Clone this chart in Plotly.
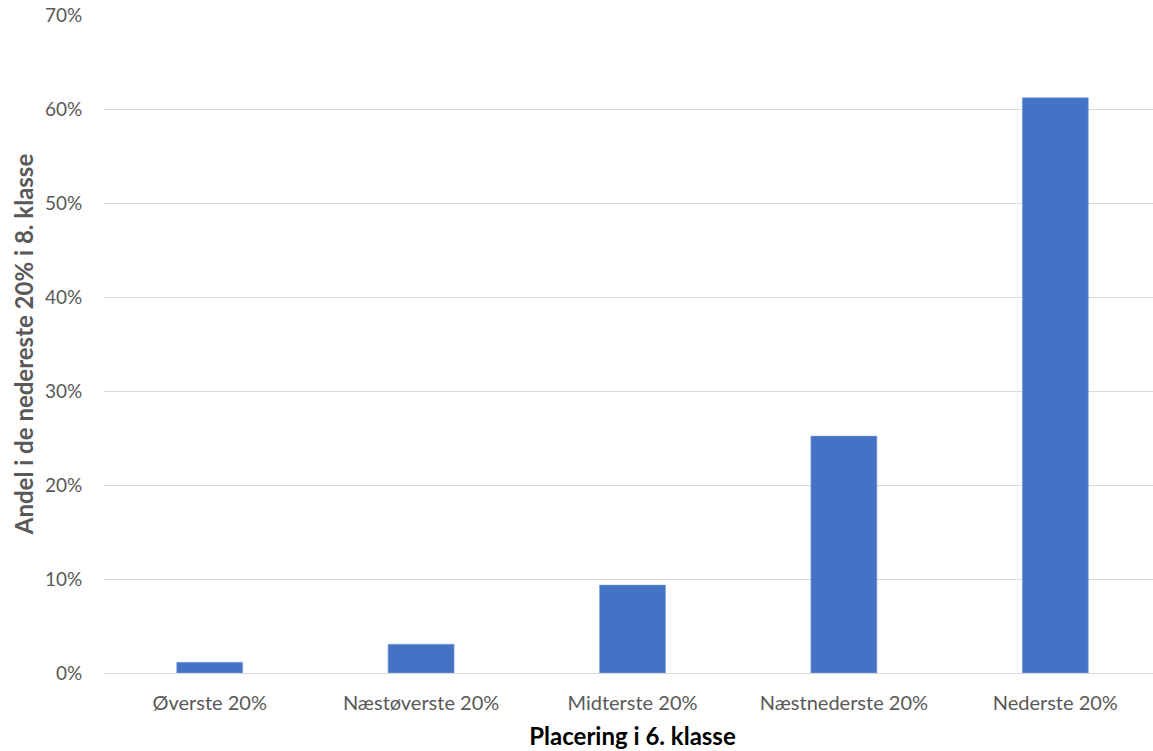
import plotly.graph_objects as go

categories = ["Øverste 20%", "Næstøverste 20%", "Midterste 20%", "Næstnederste 20%", "Nederste 20%"]
shares = [0.0114, 0.0306, 0.0935, 0.252, 0.612]
y_ticks = [0, 0.1, 0.2, 0.3, 0.4, 0.5, 0.6, 0.7]
y_tick_labels = ["0%", "10%", "20%", "30%", "40%", "50%", "60%", "70%"]

FONT = "Lato, Noto Sans, Arial, sans-serif"
GREY = "#595959"

fig = go.Figure()
fig.add_trace(
    go.Bar(
        x=list(range(len(categories))),
        y=shares,
        marker=dict(color="#4472c4", line=dict(color="#7f9fd8", width=0.6)),
        width=0.312,
        customdata=categories,
        hovertemplate="%{customdata}<br>%{y:.1%}<extra></extra>",
    )
)

# plot area runs a little past the right edge of the window, like the original
fig.update_layout(
    width=1161,
    height=751,
    margin=dict(l=104, r=0, t=15, b=78),
    plot_bgcolor="#ffffff",
    paper_bgcolor="#ffffff",
    font=dict(family=FONT, color=GREY, size=20),
    showlegend=False,
)
fig.update_xaxes(
    tickmode="array",
    tickvals=list(range(len(categories))),
    ticktext=categories,
    range=[-0.5, 4.5],
    showgrid=False,
    showline=False,
    zeroline=False,
    ticks="outside",
    ticklen=12,
    tickcolor="rgba(0,0,0,0)",
    tickfont=dict(size=20, color=GREY),
    title=dict(text="<b>Placering i 6. klasse</b>", font=dict(size=24, color="#000000"), standoff=15),
)
fig.update_yaxes(
    range=[0, 0.7],
    tickmode="array",
    tickvals=y_ticks,
    ticktext=y_tick_labels,
    showgrid=True,
    gridcolor="#d9d9d9",
    gridwidth=1,
    zeroline=True,
    zerolinecolor="#d9d9d9",
    zerolinewidth=1,
    ticks="outside",
    ticklen=17,
    tickcolor="rgba(0,0,0,0)",
    tickfont=dict(size=19, color=GREY),
    title=dict(text="<b>Andel i de nedereste 20% i 8. klasse</b>", font=dict(size=24, color=GREY), standoff=4),
)

fig.write_html(
    "out.html",
    config={"displayModeBar": False},
    post_script=(
        "document.documentElement.style.overflow='hidden';"
        "document.body.style.margin='0';document.body.style.overflow='hidden';"
    ),
)
